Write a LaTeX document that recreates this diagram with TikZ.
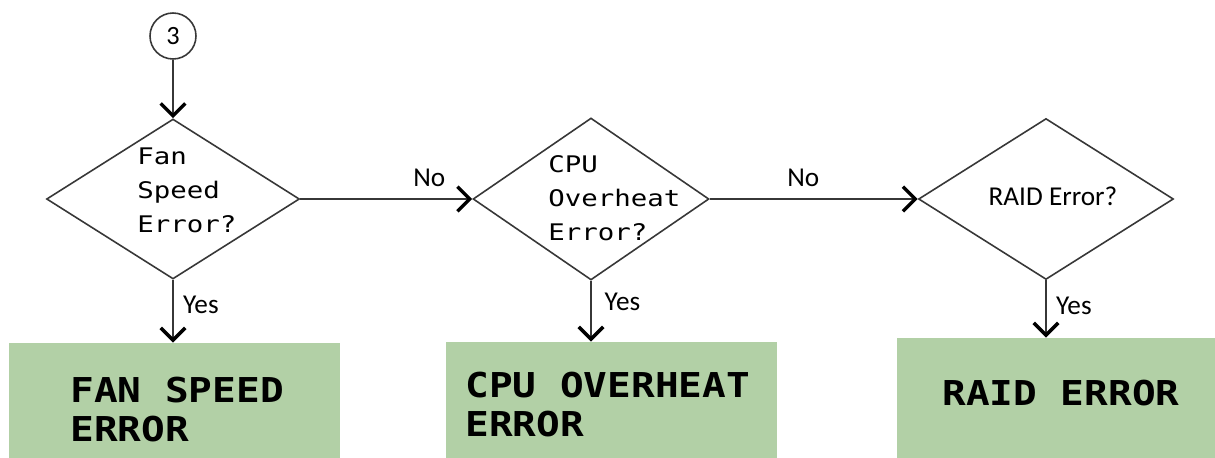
\documentclass[tikz,border=0pt]{standalone}
\usepackage{fontspec}
\setmainfont{Carlito}
\newfontfamily\diafont{DejaVu Sans Mono}[FakeStretch=1.2]
\newfontfamily\boxfont{DejaVu Sans Mono}[FakeStretch=1.15]
\usepackage{tikz}
\usetikzlibrary{shapes.geometric, arrows.meta, positioning}
\definecolor{boxgreen}{RGB}{178,208,166}
\definecolor{linegray}{RGB}{55,55,55}
\tikzset{
  decision/.style={diamond, draw=linegray, fill=white, inner sep=0pt,
    line width=0.9pt},
  errbox/.style={rectangle, fill=boxgreen, minimum width=6.62cm,
    minimum height=2.6cm, inner sep=0pt},
  connector/.style={circle, draw=linegray, minimum size=0.92cm, inner sep=0pt,
    font=\fontsize{15}{17}\selectfont, line width=0.9pt},
  qtext/.style={anchor=north west, inner sep=0pt, align=left,
    font=\diafont\fontsize{13}{19.5}\selectfont},
  errtext/.style={anchor=north west, inner sep=0pt, align=left,
    font=\boxfont\bfseries\fontsize{19.5}{22}\selectfont},
  arrow/.style={draw=linegray, line width=0.9pt,
    -{Straight Barb[length=7pt, width=14pt, line width=2pt, color=black]}},
  lbl/.style={font=\fontsize{15.5}{18}\selectfont, text=black}
}

\begin{document}
\begin{tikzpicture}[x=0.02cm, y=-0.02cm]
  \useasboundingbox (0,0) rectangle (1215,457);
  % decisions
  \node[connector] (c3) at (173,36) {3};
  \node[decision, minimum width=5.06cm, minimum height=3.2cm] (fan) at (173,199) {};
  \node[decision, minimum width=4.72cm, minimum height=3.24cm] (cpu) at (591,199) {};
  \node[decision, minimum width=5.1cm, minimum height=3.22cm] (raid) at (1046,199) {};
  \node[qtext] (fanq) at (137,147) {Fan\\Speed\\Error?};
  \node[qtext] (cpuq) at (548,155) {CPU\\Overheat\\Error?};
  \node[lbl, anchor=base, font=\fontsize{15.5}{18}\selectfont] (raidq) at (1053,205) {RAID Error?};
  % results
  \node[errbox] (fanbox) at (174.5,408) {};
  \node[errbox] (cpubox) at (611.5,407) {};
  \node[errbox, minimum width=6.66cm] (raidbox) at (1063.5,403) {};
  \node[errtext] (fant) at (70,377) {FAN SPEED\\ERROR};
  \node[errtext] (cput) at (465,372) {CPU OVERHEAT\\ERROR};
  \node[errtext] (raidt) at (942,380) {RAID ERROR};
  % connectors
  \draw[arrow] (c3) -- (fan);
  \draw[arrow] (fan) -- node[lbl, pos=0.75, above=3pt] (no1) {No} (cpu);
  \draw[arrow] (cpu) -- node[lbl, pos=0.45, above=3pt] (no2) {No} (raid);
  \draw[arrow] (fan.south) -- node[lbl, pos=0.4, right=2pt] (yes1) {Yes} (fan.south |- fanbox.north);
  \draw[arrow] (cpu.south) -- node[lbl, pos=0.35, right=4pt] (yes2) {Yes} (cpu.south |- cpubox.north);
  \draw[arrow] (raid.south) -- node[lbl, pos=0.45, right=2pt] (yes3) {Yes} (raid.south |- raidbox.north);
\end{tikzpicture}
\end{document}
